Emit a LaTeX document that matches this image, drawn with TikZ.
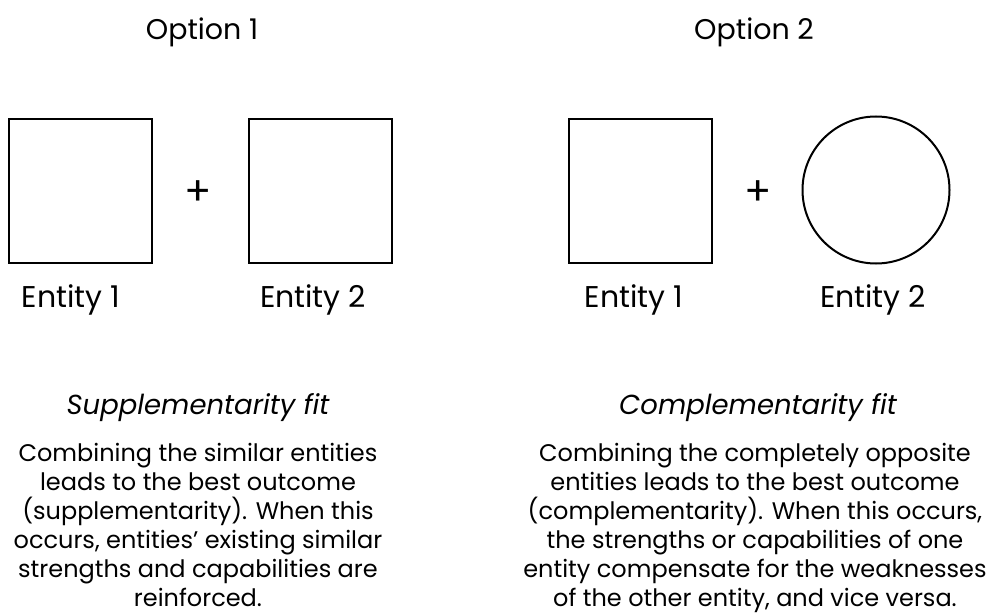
\documentclass[tikz,border=0pt]{standalone}
\usepackage{fontspec}
\setmainfont{Poppins}
\begin{document}
\begin{tikzpicture}[x=1pt,y=-1pt,
  heading/.style={inner sep=0pt,font=\fontsize{28.5}{32}\selectfont},
  shapebox/.style={draw,line width=2pt,rectangle,minimum width=143pt,minimum height=144pt,inner sep=0pt},
  roundshape/.style={draw,line width=2pt,circle,minimum size=147pt,inner sep=0pt},
  plussign/.style={inner sep=0pt,font=\fontsize{40}{40}\selectfont},
  entlabel/.style={inner sep=0pt,font=\fontsize{30}{34}\selectfont},
  fittitle/.style={inner sep=0pt,font=\fontsize{27.5}{32}\selectfont\itshape},
  bodytext/.style={inner sep=0pt,anchor=north,align=center,font=\fontsize{24}{29}\selectfont}]
\useasboundingbox (0,0) rectangle (989,615);

% column headings
\node[heading] (opta) at (202,32) {Option 1};
\node[heading] (optb) at (754,32) {Option 2};

% option 1: two squares
\node[shapebox] (a1) at (80.5,191) {};
\node[plussign] (pa) at (198,193) {+};
\node[shapebox] (a2) at (320.5,191) {};
\node[entlabel] (la1) at (71,300) {Entity 1};
\node[entlabel] (la2) at (313,300) {Entity 2};

% option 2: square and circle
\node[shapebox] (b1) at (640.5,191) {};
\node[plussign] (pb) at (758,193) {+};
\node[roundshape] (b2) at (876,190) {};
\node[entlabel] (lb1) at (634,300) {Entity 1};
\node[entlabel] (lb2) at (873,300) {Entity 2};

% fit descriptions
\node[fittitle] (fa) at (198,408) {Supplementarity fit};
\node[fittitle] (fb) at (758,408) {Complementarity fit};

\node[bodytext] (ta) at (198,443) {Combining the similar entities\\
leads to the best outcome\\
(supplementarity). When this\\
occurs, entities' existing similar\\
strengths and capabilities are\\
reinforced.};

\node[bodytext] (tb) at (755,443) {Combining the completely opposite\\
entities leads to the best outcome\\
(complementarity). When this occurs,\\
the strengths or capabilities of one\\
entity compensate for the weaknesses\\
of the other entity, and vice versa.};
\end{tikzpicture}
\end{document}
